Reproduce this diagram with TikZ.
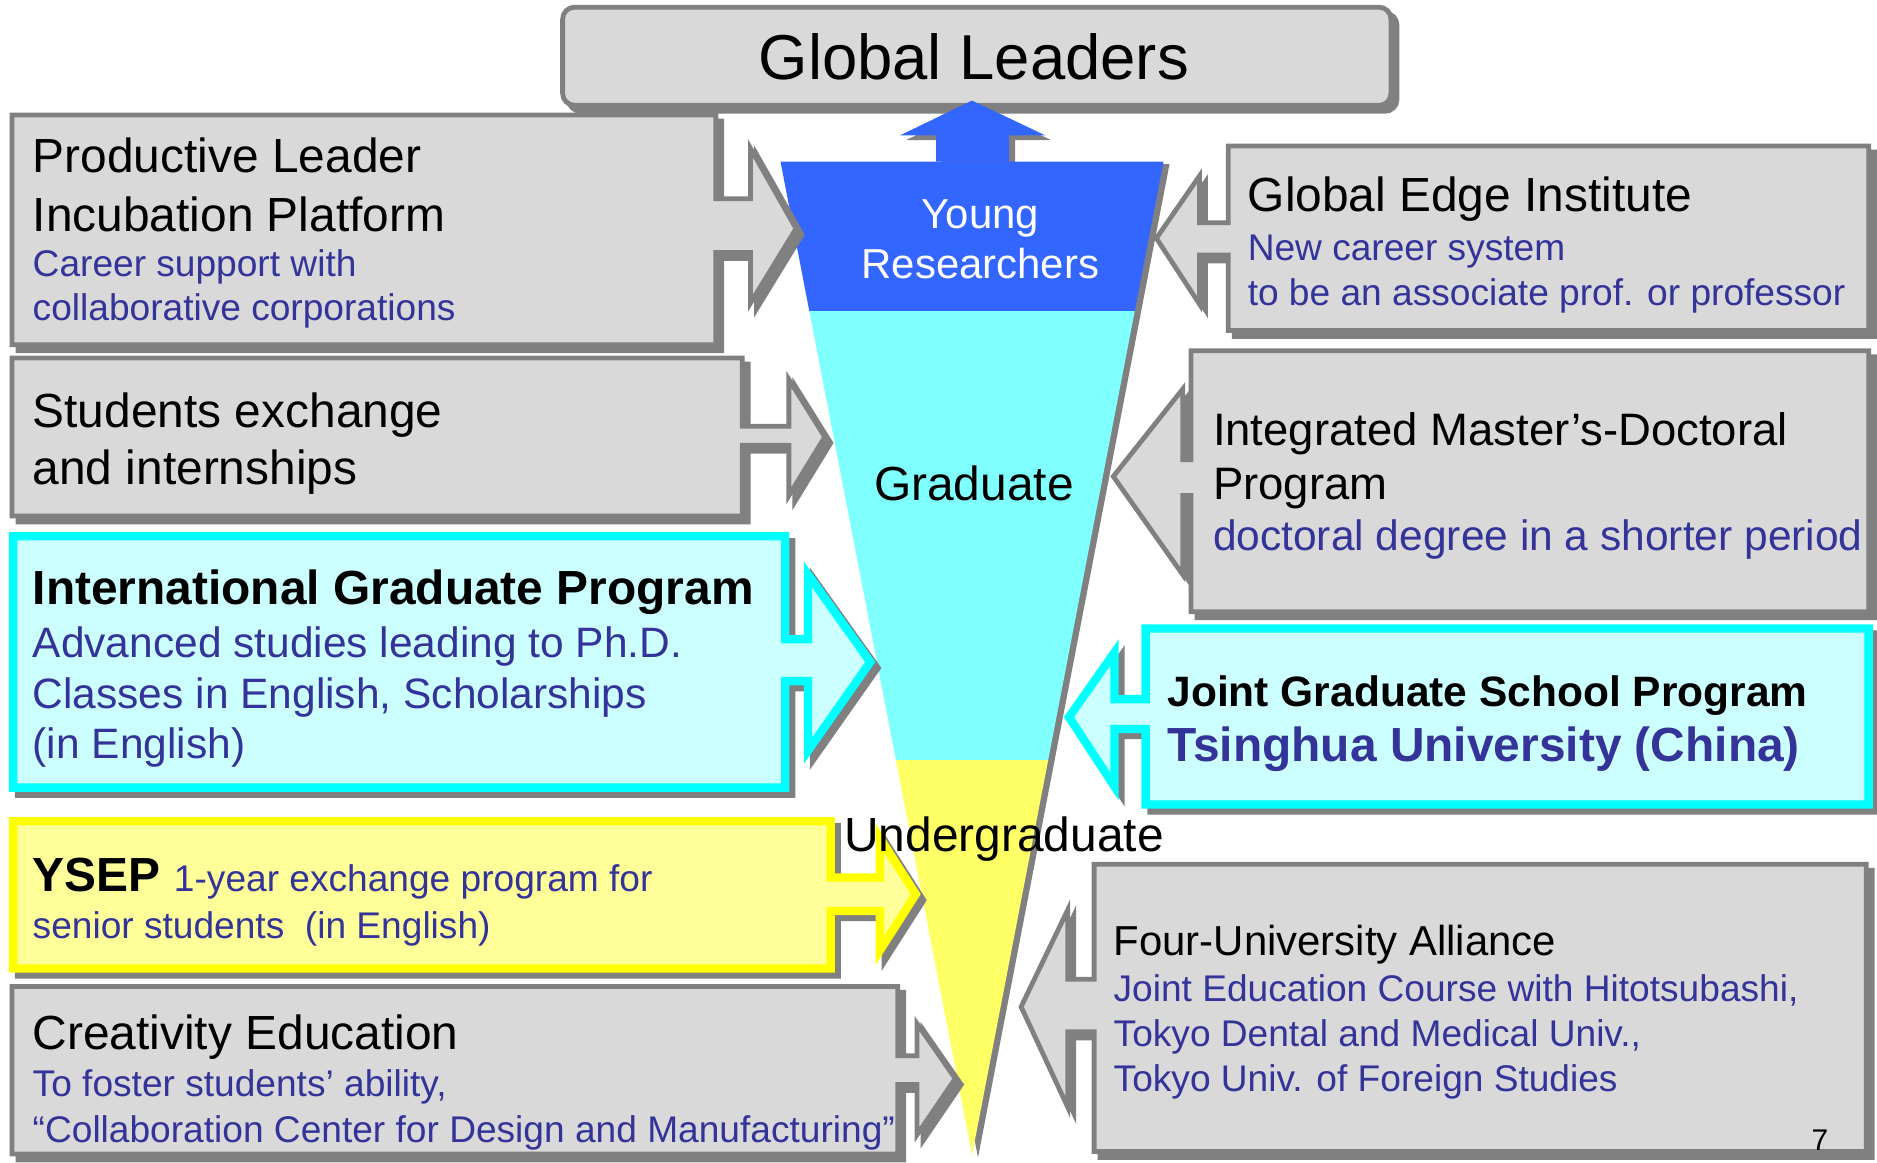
\documentclass[tikz,border=0pt]{standalone}
\usepackage{fontspec}
\setmainfont{Liberation Sans}
\definecolor{boxgray}{HTML}{D9D9D9}
\definecolor{bordergray}{HTML}{808080}
\definecolor{tblue}{HTML}{333399}
\definecolor{fblue}{HTML}{3366FF}
\definecolor{fcyan}{HTML}{80FFFF}
\definecolor{fyellow}{HTML}{FFFF66}
\definecolor{lcyan}{HTML}{CCFFFF}
\definecolor{bcyan}{HTML}{00FFFF}
\definecolor{lyellow}{HTML}{FFFF99}
\definecolor{byellow}{HTML}{FFFF00}
\tikzset{
  sh/.style={preaction={fill=bordergray, draw=bordergray, line width=#1, line join=miter, transform canvas={shift={(3pt,-3pt)}}}},
  graycall/.style={sh=2.4pt, fill=boxgray, draw=bordergray, line width=2.4pt, line join=miter},
  cyancall/.style={sh=4.2pt, fill=lcyan, draw=bcyan, line width=4.2pt, line join=miter},
  yellowcall/.style={sh=4.2pt, fill=lyellow, draw=byellow, line width=4.2pt, line join=miter},
  hd/.style={anchor=base west, inner sep=0pt, font=\fontsize{24}{28}\selectfont},
  hdm/.style={anchor=base west, inner sep=0pt, font=\fontsize{22.8}{27}\selectfont},
  hdb/.style={anchor=base west, inner sep=0pt, font=\fontsize{24}{28}\selectfont\bfseries},
  sb/.style={anchor=base west, inner sep=0pt, text=tblue, font=\fontsize{18.6}{22}\selectfont},
  sbl/.style={anchor=base west, inner sep=0pt, text=tblue, font=\fontsize{21.3}{25}\selectfont},
  ftext/.style={anchor=base, inner sep=0pt},
}
\begin{document}
\begin{tikzpicture}[x=0.6pt, y=-0.6pt]
\useasboundingbox (0,0) rectangle (1568,971);
\fill[white] (0,0) rectangle (1568,971);

% Global Leaders box
\draw[sh=2.4pt, fill=boxgray, draw=bordergray, line width=2.4pt, rounded corners=6pt]
  (470,6) rectangle (1162,88);
\node[ftext, font=\fontsize{31.8}{36}\selectfont] (gl) at (813.5,66) {Global Leaders};

% Up arrow
\fill[bordergray, shift={(5,4)}] (782,135) -- (782,113) -- (752,113) -- (812,84) -- (873,113) -- (843,113) -- (843,135) -- cycle;
\fill[fblue] (782,135) -- (782,113) -- (752,113) -- (812,84) -- (873,113) -- (843,113) -- (843,135) -- cycle;

% Funnel
\fill[bordergray, shift={(5,2)}] (652,135) -- (972,135) -- (812,965) -- cycle;
\fill[fblue] (652,135) -- (972,135) -- (947.9,260) -- (676.1,260) -- cycle;
\fill[fcyan] (676.1,260) -- (947.9,260) -- (875.6,635) -- (748.4,635) -- cycle;
\fill[fyellow] (748.4,635) -- (875.6,635) -- (812,965) -- cycle;

% Left callouts
\draw[graycall] (10,96) -- (598,96) -- (598,166) -- (627,166) -- (627,124) -- (665,191) -- (627,253) -- (627,211) -- (598,211) -- (598,288) -- (10,288) -- cycle;
\draw[graycall] (10,299) -- (620,299) -- (620,356) -- (659,356) -- (659,317) -- (689,365) -- (659,414) -- (659,372) -- (620,372) -- (620,431) -- (10,431) -- cycle;
\draw[cyancall] (11,448) -- (656,448) -- (656,534) -- (675,534) -- (675,480) -- (727,553) -- (675,627) -- (675,569) -- (656,569) -- (656,658) -- (11,658) -- cycle;
\draw[yellowcall] (11,686) -- (694,686) -- (694,733) -- (735,733) -- (735,700) -- (765,747) -- (735,794) -- (735,761) -- (694,761) -- (694,809) -- (11,809) -- cycle;
\draw[graycall] (10,824) -- (750,824) -- (750,882) -- (766,882) -- (766,855) -- (798,901) -- (766,948) -- (766,906) -- (750,906) -- (750,964) -- (10,964) -- cycle;

% Right callouts
\draw[graycall] (1561,122) -- (1026,122) -- (1026,186) -- (1002,186) -- (1002,147) -- (966,199) -- (1002,254) -- (1002,213) -- (1026,213) -- (1026,276) -- (1561,276) -- cycle;
\draw[graycall] (1561,293) -- (995,293) -- (995,384) -- (988,384) -- (988,325) -- (930,398) -- (988,480) -- (988,414) -- (995,414) -- (995,511) -- (1561,511) -- cycle;
\draw[cyancall] (1561,525) -- (957,525) -- (957,584) -- (931,584) -- (931,545) -- (893,599) -- (931,657) -- (931,609) -- (957,609) -- (957,672) -- (1561,672) -- cycle;
\draw[graycall] (1559,722) -- (914,722) -- (914,818) -- (892,818) -- (892,760) -- (853,841) -- (892,925) -- (892,862) -- (914,862) -- (914,962) -- (1559,962) -- cycle;

% Funnel texts
\node[ftext, text=white, font=\fontsize{21}{25}\selectfont] (yr1) at (819,191) {Young};
\node[ftext, text=white, font=\fontsize{21}{25}\selectfont] (yr2) at (819,233) {Researchers};
\node[ftext, font=\fontsize{24}{28}\selectfont] (grad) at (813.5,418) {Graduate};
\node[hd] (ug) at (705,711) {Undergraduate};

% Left texts
\node[hd] (pl1) at (27,144) {Productive Leader};
\node[hd] (pl2) at (27,193) {Incubation Platform};
\node[sb] (pl3) at (27,231) {Career support with};
\node[sb] (pl4) at (27,268) {collaborative corporations};

\node[hd] (se1) at (27,357) {Students exchange};
\node[hd] (se2) at (27,405) {and internships};

\node[hdb] (ig1) at (27,505) {International Graduate Program};
\node[sbl] (ig2) at (27,549) {Advanced studies leading to Ph.D.};
\node[sbl] (ig3) at (27,592) {Classes in English, Scholarships};
\node[sbl] (ig4) at (27,634) {(in English)};

\node[hdb] (ys1) at (27,745) {YSEP};
\node[sb] (ys2) at (145,745) {1-year exchange program for};
\node[sb] (ys3) at (27,784) {senior students~~(in English)};

\node[hd] (ce1) at (27,877) {Creativity Education};
\node[sb] (ce2) at (27,916) {To foster students’ ability,};
\node[sb] (ce3) at (27,954) {“Collaboration Center for Design and Manufacturing”};

% Right texts
\node[hd] (ge1) at (1042,177) {Global Edge Institute};
\node[sb] (ge2) at (1042,218) {New career system};
\node[sb] (ge3) at (1042,255) {to be an associate prof. or professor};

\node[hdm] (im1) at (1013,372) {Integrated Master’s-Doctoral};
\node[hdm] (im2) at (1013,417) {Program};
\node[sbl] (im3) at (1013,460) {doctoral degree in a shorter period};

\node[anchor=base west, inner sep=0pt, font=\fontsize{21.3}{25}\selectfont\bfseries] (jg1) at (975,590) {Joint Graduate School Program};
\node[anchor=base west, inner sep=0pt, text=tblue, font=\fontsize{24}{28}\selectfont\bfseries] (jg2) at (975,636) {Tsinghua University (China)};

\node[anchor=base west, inner sep=0pt, font=\fontsize{21}{25}\selectfont] (fu1) at (930,798) {Four-University Alliance};
\node[sb] (fu2) at (930,837) {Joint Education Course with Hitotsubashi,};
\node[sb] (fu3) at (930,874) {Tokyo Dental and Medical Univ.,};
\node[sb] (fu4) at (930,912) {Tokyo Univ. of Foreign Studies};

\node[anchor=base west, inner sep=0pt, font=\fontsize{15}{18}\selectfont] (pg) at (1513,961) {7};
\end{tikzpicture}
\end{document}
